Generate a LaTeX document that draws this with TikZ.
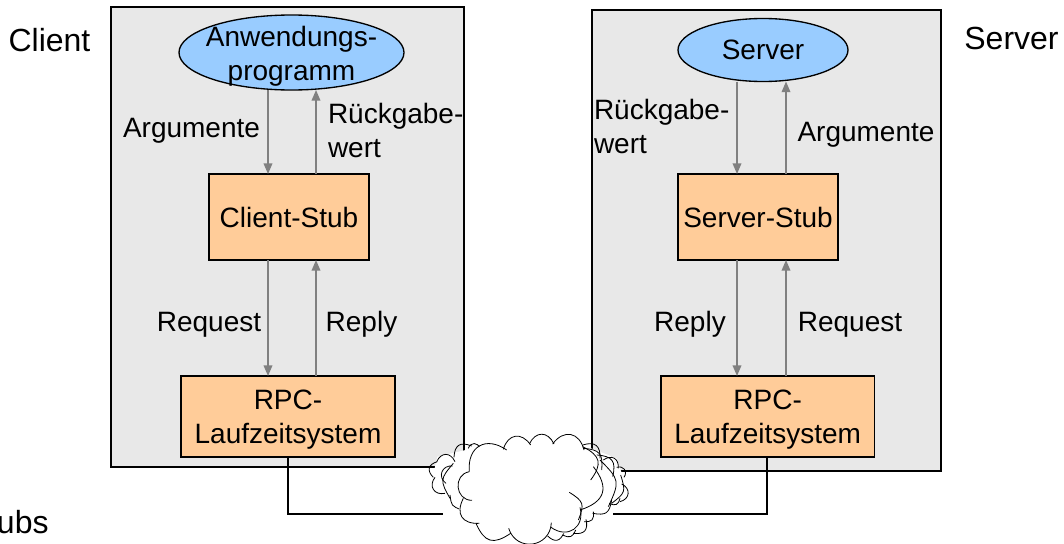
\documentclass[tikz,border=0pt]{standalone}
\usepackage{fontspec}
\setmainfont{Liberation Sans}
\usetikzlibrary{shapes.geometric,arrows.meta}
\definecolor{panelgray}{HTML}{E8E8E8}
\definecolor{ellblue}{HTML}{99CCFF}
\definecolor{stuborange}{HTML}{FFCC99}
\definecolor{arrgray}{HTML}{808080}
\tikzset{
  x=0.75pt,y=-0.75pt,
  every node/.style={font=\fontsize{21}{25.5}\selectfont,inner sep=0pt,outer sep=0pt},
  panel/.style={draw=black,line width=1pt,fill=panelgray,anchor=north west},
  stubbox/.style={draw=black,line width=1pt,fill=stuborange,align=center,anchor=north west},
  app/.style={draw=black,line width=1pt,fill=ellblue,ellipse},
  txt/.style={align=center},
  ltxt/.style={align=left,anchor=west},
  sidetxt/.style={font=\fontsize{24}{28}\selectfont},
  arr/.style={draw=arrgray,line width=1.1pt,-{Triangle[length=8pt,width=6.5pt]}},
  wire/.style={draw=black,line width=1pt},
  cloudline/.style={draw=black,line width=0.6pt},
}
\begin{document}
\begin{tikzpicture}
\useasboundingbox (0,0) rectangle (1064,543);
% panels
\node[panel,minimum width=264.75pt,minimum height=345pt] (lp) at (111,7) {};
\node[panel,minimum width=261.75pt,minimum height=345.75pt] (rp) at (592,10) {};
% boxes
\node[app,minimum width=168.75pt,minimum height=56.25pt] (anw) at (291.5,52.5) {};
\node[txt] (anwt) at (291.5,56) {Anwendungs-\\programm};
\node[app,minimum width=127.5pt,minimum height=47.25pt] (srv) at (763,50) {Server};
\node[stubbox,minimum width=120pt,minimum height=64.5pt] (cs) at (209,174) {Client-Stub};
\node[stubbox,minimum width=160.5pt,minimum height=60.75pt] (cr) at (181,376) {\rule{0pt}{19.5pt}RPC-\\Laufzeitsystem};
\node[stubbox,minimum width=120pt,minimum height=64.5pt] (ss) at (678,174) {Server-Stub};
\node[stubbox,minimum width=160pt,minimum height=60.75pt] (sr) at (661,376) {\rule{0pt}{19.5pt}RPC-\\Laufzeitsystem};
% guide coordinates for the parallel arrows
\coordinate (la) at (268,0);
\coordinate (lb) at (316,0);
\coordinate (ra) at (737,0);
\coordinate (rb) at (786,0);
\draw[arr] (anw.south -| la) -- (cs.north -| la);
\draw[arr] (cs.north -| lb) -- (anw.south -| lb);
\draw[arr] (cs.south -| la) -- (cr.north -| la);
\draw[arr] (cr.north -| lb) -- (cs.south -| lb);
\draw[arr] (srv.south -| ra) -- (ss.north -| ra);
\draw[arr] (ss.north -| rb) -- (srv.south -| rb);
\draw[arr] (ss.south -| ra) -- (sr.north -| ra);
\draw[arr] (sr.north -| rb) -- (ss.south -| rb);
% labels
\node[sidetxt] (lclient) at (49.5,40) {Client};
\node[sidetxt] (lserver) at (1011.5,38) {Server};
\node[sidetxt,anchor=west] (lubs) at (-3,522) {ubs};
\node (l1) at (191.5,131) {Argumente};
\node[ltxt] (l2) at (328,130) {Rückgabe-\\wert};
\node (l3) at (209,325) {Request};
\node (l4) at (361.5,324) {Reply};
\node[ltxt] (l5) at (594,126) {Rückgabe-\\wert};
\node (l6) at (866,135) {Argumente};
\node (l7) at (690,324) {Reply};
\node (l8) at (850,325) {Request};
% wires to the cloud
\coordinate (wl) at (443,514);
\coordinate (wr) at (613,514);
\coordinate (wlc) at (288,514);
\coordinate (wrc) at (767,514);
\draw[wire] (cr.south -| wlc) -- (wlc) -- (wl);
\draw[wire] (sr.south -| wrc) -- (wrc) -- (wr);
% cloud, in a local frame of 1/3 px
\begin{scope}[shift={(400,420)},x=0.25pt,y=-0.25pt,cloudline,looseness=1.5]
  % back left
  \fill[white] (240,80) -- (112,110) -- (98,170) -- (135,222) -- (190,290) -- (210,120) -- cycle;
  \fill[white] (548,75) -- (650,115) -- (682,210) -- (640,255) -- (550,320) -- (445,352) -- (450,200) -- cycle;
  \draw (240,85) to[bend right=70] (205,85);
  \draw (215,78) to[bend right=55] (162,112);
  \draw (165,125) to[bend right=65] (110,125);
  \draw (112,125) to[bend right=60] (100,172);
  \draw (105,172) to[bend right=70] (135,220);
  \draw (158,138) to[bend right=75] (138,190);
  \draw (160,130) to[bend right=35] (150,235);
  \draw (150,225) to[bend right=30] (185,270);
  % back right
  \draw (548,75) to[bend left=55] (600,115);
  \draw (550,85) to[bend left=45] (605,150);
  \draw (590,105) to[bend left=50] (638,170);
  \draw (600,120) to[bend left=35] (625,260);
  \draw (610,120) to[bend left=65] (655,145);
  \draw (650,142) to[bend left=70] (672,172);
  \draw (662,165) to[bend left=35] (635,250);
  \draw (665,192) to[bend left=70] (660,245);
  \draw (660,235) to[bend left=50] (628,250);
  \draw (635,240) to[bend left=45] (578,280);
  \draw (580,275) to[bend left=50] (552,305);
  \draw (558,298) to[bend left=55] (520,340);
  \draw (527,330) to[bend left=45] (488,345);
  \draw (492,338) to[bend left=55] (443,348);
  % main body
  \fill[white] (208,155) to[bend left=60] (320,90) to[bend left=60] (392,72) to[bend left=60] (462,70)
     to[bend left=70] (550,90) to[bend left=50] (590,150) to[bend left=30] (598,190) to[bend left=50] (540,270)
     to[bend left=70] (453,325) to[bend left=70] (325,325) to[bend left=60] (228,310) to[bend left=60] (190,235)
     to[bend left=80] (208,155) -- cycle;
  \draw (208,155) to[bend left=65] (320,90);
  \draw (310,88) to[bend left=65] (392,75);
  \draw (388,72) to[bend left=65] (462,72);
  \draw (458,72) to[bend left=65] (552,90);
  \draw (548,80) to[bend left=50] (572,180);
  \draw (580,140) to[bend left=55] (540,270);
  \draw (508,217) to[bend left=40] (535,300);
  \draw (540,262) to[bend left=70] (453,322);
  \draw (454,308) to[bend left=80] (326,325);
  \draw (332,340) to[bend left=50] (228,310);
  \draw (238,310) to[bend left=60] (190,235);
  \draw (216,241) to[bend left=85] (208,155);
\end{scope}
\end{tikzpicture}
\end{document}
